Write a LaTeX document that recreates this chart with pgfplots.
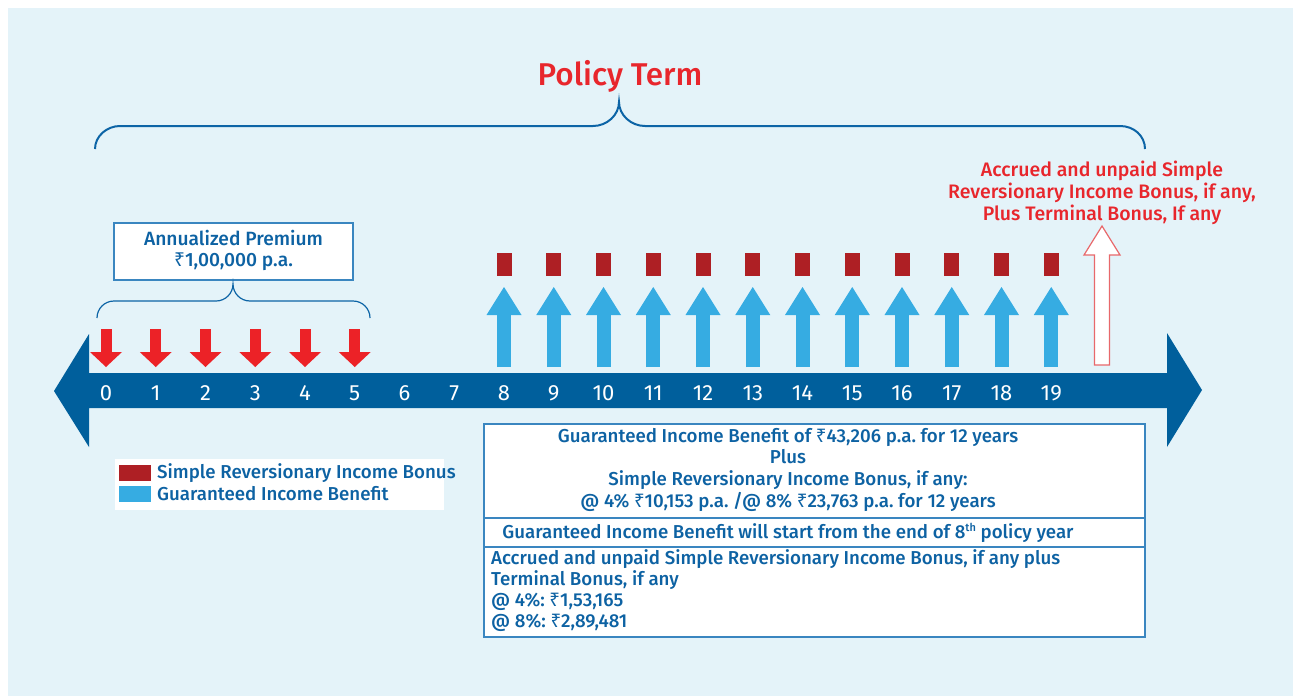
\documentclass[border=0pt]{standalone}
\usepackage{fontspec}
\setmainfont{Fira Sans}[BoldFont={Fira Sans Medium}]
\newfontfamily\rsfont{Noto Sans}
\newcommand{\Rs}{{\rsfont\bfseries ₹}}
\usepackage{pgfplots}
\pgfplotsset{compat=1.18}
\usepackage{pgfplotstable}
\usetikzlibrary{arrows.meta}
\frenchspacing
\definecolor{bg}{HTML}{E4F3F9}
\definecolor{band}{HTML}{005F9C}
\definecolor{arrowblue}{HTML}{36ACE2}
\definecolor{bonusred}{HTML}{AE1F24}
\definecolor{arrowred}{HTML}{EC2227}
\definecolor{txtblue}{HTML}{0D62A3}
\definecolor{txtred}{HTML}{E8262C}
\definecolor{bracecol}{HTML}{0C64A6}
\definecolor{boxblue}{HTML}{3A86C0}
\definecolor{outred}{HTML}{E8686B}

% premium paying years (annualized premium)
\pgfplotstableread{
year premium
0 100000
1 100000
2 100000
3 100000
4 100000
5 100000
}\premium
% years with Guaranteed Income Benefit and Simple Reversionary Income Bonus
\pgfplotstableread{
year gib
8 43206
9 43206
10 43206
11 43206
12 43206
13 43206
14 43206
15 43206
16 43206
17 43206
18 43206
19 43206
}\income

\tikzset{bt/.style={text=txtblue, font=\fontsize{18.7}{22}\selectfont\bfseries},
         rt/.style={text=txtred, font=\fontsize{19.5}{22}\selectfont\bfseries}}

\begin{document}
\begin{tikzpicture}
\begin{axis}[
  width=1293pt, height=696pt, scale only axis,
  xmin=0, xmax=1293, ymin=0, ymax=696, y dir=reverse,
  hide axis, clip=false,
]
% background
\fill[white] (axis cs:0,0) rectangle (axis cs:1293,696);
\fill[bg] (axis cs:8,8) rectangle (axis cs:1293,696);

% Policy term brace
\draw[bracecol, line width=2pt]
  (axis cs:95,149) .. controls (axis cs:95,136) and (axis cs:107,126) .. (axis cs:120,126)
  -- (axis cs:593,126) .. controls (axis cs:607,126) and (axis cs:619,115) .. (axis cs:619,102)
  .. controls (axis cs:619,115) and (axis cs:631,126) .. (axis cs:645,126)
  -- (axis cs:1120,126) .. controls (axis cs:1134,126) and (axis cs:1145,136) .. (axis cs:1145,149);
\node[anchor=base, text=txtred, font=\fontsize{31.5}{36}\selectfont\bfseries] at (axis cs:620,85) {Policy Term};

% Annualized premium box and brace
\draw[boxblue, line width=1.3pt, fill=white] (axis cs:114,223) rectangle (axis cs:353,280);
\node[anchor=base, bt, font=\fontsize{19.2}{22}\selectfont\bfseries] at (axis cs:233.5,245) {Annualized Premium};
\node[anchor=base, bt, font=\fontsize{19.2}{22}\selectfont\bfseries] at (axis cs:233.5,266) {\Rs1,00,000 p.a.};
\draw[bracecol, line width=1.2pt]
  (axis cs:97,318) .. controls (axis cs:97,308.6) and (axis cs:104.6,301) .. (axis cs:114,301)
  -- (axis cs:216,301) .. controls (axis cs:225.4,301) and (axis cs:233,293.4) .. (axis cs:233,284)
  .. controls (axis cs:233,293.4) and (axis cs:240.6,301) .. (axis cs:250,301)
  -- (axis cs:353,301) .. controls (axis cs:362.4,301) and (axis cs:370,308.6) .. (axis cs:370,318);

% timeline band
\addplot[fill=band, draw=none] coordinates {
  (54,391) (89,334) (89,373) (1167,373) (1167,333) (1202,390)
  (1167,447) (1167,408) (89,408) (89,447)} -- cycle;

% premium arrows (down)
\addplot[mark=none, draw=arrowred, line width=11pt, quiver={u=0, v=38},
  -{Triangle[width=32pt, length=15pt, line width=0pt]}]
  table[x expr=106+49.75*\thisrow{year}, y expr=329] {\premium};

% guaranteed income benefit arrows (up)
\addplot[mark=none, draw=arrowblue, line width=14pt, quiver={u=0, v=-80},
  -{Triangle[width=35pt, length=28pt, line width=0pt]}]
  table[x expr=106+49.75*\thisrow{year}, y expr=367] {\income};

% simple reversionary income bonus
\addplot[mark=none, draw=bonusred, line width=15pt, quiver={u=0, v=23}]
  table[x expr=106+49.75*\thisrow{year}, y expr=253] {\income};

% maturity arrow (outline)
\addplot[fill=white, draw=outred, line width=1.2pt] coordinates {
  (1102,226) (1120,255) (1109.5,255) (1109.5,365) (1094.5,365) (1094.5,255) (1084,255)} -- cycle;

% year labels
\pgfplotsinvokeforeach{0,...,19}{
  \node[anchor=base, text=white, font=\fontsize{22}{24}\selectfont] at (axis cs:{106+49.75*#1},400) {#1};
}

% maturity text
\node[anchor=base, rt] at (axis cs:1102,176) {Accrued and unpaid Simple};
\node[anchor=base, rt] at (axis cs:1102,198) {Reversionary Income Bonus, if any,};
\node[anchor=base, rt] at (axis cs:1102,220) {Plus Terminal Bonus, If any};

% legend
\fill[white] (axis cs:115,459) rectangle (axis cs:444,510);
\fill[bonusred] (axis cs:119,465) rectangle (axis cs:151,481);
\fill[arrowblue] (axis cs:119,486) rectangle (axis cs:151,502);
\node[anchor=base west, inner xsep=0pt, bt] at (axis cs:157,478) {Simple Reversionary Income Bonus};
\node[anchor=base west, inner xsep=0pt, bt] at (axis cs:157,500) {Guaranteed Income Benefit};

% info box
\draw[boxblue, line width=1.5pt, fill=white] (axis cs:484,424) rectangle (axis cs:1145,637);
\draw[boxblue, line width=1.5pt] (axis cs:484,518) -- (axis cs:1145,518);
\draw[boxblue, line width=1.5pt] (axis cs:484,547) -- (axis cs:1145,547);
\node[anchor=base, bt] at (axis cs:788,442) {Guaranteed Income Benefit of \Rs43,206 p.a. for 12 years};
\node[anchor=base, bt] at (axis cs:788,463) {Plus};
\node[anchor=base, bt] at (axis cs:788,485) {Simple Reversionary Income Bonus, if any:};
\node[anchor=base, bt] at (axis cs:788,507) {@ 4\% \Rs10,153 p.a. /@ 8\% \Rs23,763 p.a. for 12 years};
\node[anchor=base, bt] at (axis cs:788,538) {Guaranteed Income Benefit will start from the end of 8{\fontsize{11}{12}\selectfont\raisebox{6.5pt}{th}} policy year};
\node[anchor=base west, inner xsep=0pt, bt] at (axis cs:491,564) {Accrued and unpaid Simple Reversionary Income Bonus, if any plus};
\node[anchor=base west, inner xsep=0pt, bt] at (axis cs:491,585) {Terminal Bonus, if any};
\node[anchor=base west, inner xsep=0pt, bt] at (axis cs:491,606) {@ 4\%: \Rs1,53,165};
\node[anchor=base west, inner xsep=0pt, bt] at (axis cs:491,627) {@ 8\%: \Rs2,89,481};
\end{axis}
\end{tikzpicture}
\end{document}
